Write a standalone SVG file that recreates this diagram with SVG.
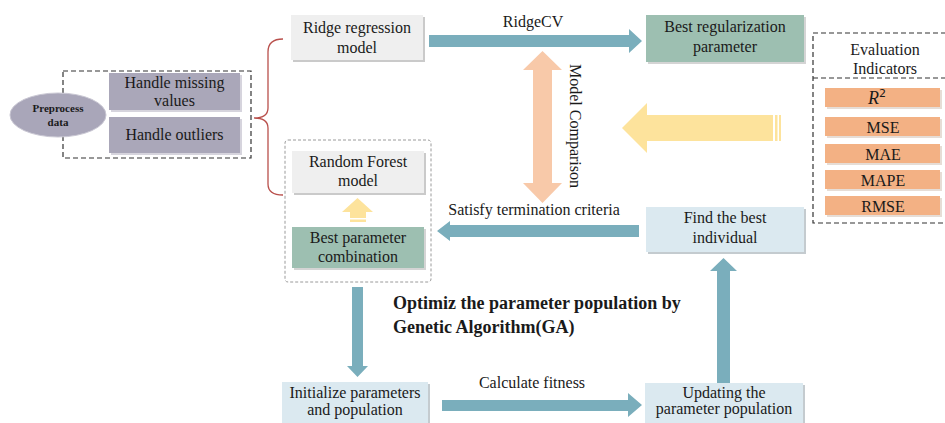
<svg xmlns="http://www.w3.org/2000/svg" width="945" height="423" viewBox="0 0 945 423">
<style>
text{font-family:"Liberation Serif","Times New Roman",serif;fill:#1a1a1a}
.t{font-size:16px;text-anchor:middle}
.sh{fill:#cacaca}
.gray{fill:#efefef}
.purple{fill:#aaa7b9}
.green{fill:#9dbfb1}
.blue{fill:#dbe9f0}
.orange{fill:#f3b184}
.teal{fill:#7aaebc}
.dash{fill:none;stroke:#333;stroke-width:1.2;stroke-dasharray:5 3}
</style>
<rect width="945" height="423" fill="#fff"/>

<!-- Preprocess group -->
<g id="preprocess-box">
<rect class="dash" x="63" y="71" width="188" height="87"/>
</g>
<g id="preprocess">
<ellipse cx="58" cy="115" rx="48" ry="22" fill="#a9a6b9" stroke="#c9c7d3" stroke-width="1"/>
<text x="58" y="112" style="font-size:11px;font-weight:bold;text-anchor:middle">Preprocess</text>
<text x="58" y="126" style="font-size:11px;font-weight:bold;text-anchor:middle">data</text>
</g>
<g id="missing">
<rect x="111" y="75" width="131" height="37" fill="#d6d4dd"/>
<rect class="purple" x="109" y="73" width="131" height="37"/>
<text class="t" x="174.5" y="88">Handle missing</text>
<text class="t" x="174.5" y="106">values</text>
</g>
<g id="outliers">
<rect x="111" y="119" width="131" height="36" fill="#d6d4dd"/>
<rect class="purple" x="109" y="117" width="131" height="36"/>
<text class="t" x="174.5" y="140">Handle outliers</text>
</g>

<!-- Brace -->
<g id="brace">
<path d="M283,39 Q268,39 268,52 L268,108 Q268,118 254,118 Q268,118 268,128 L268,184 Q268,195 283,195" fill="none" stroke="#b9504c" stroke-width="1.3"/>
</g>

<!-- Ridge -->
<g id="ridge">
<rect class="sh" x="293" y="17" width="132" height="45"/>
<rect class="gray" x="291" y="15" width="132" height="45"/>
<text class="t" x="357" y="33">Ridge regression</text>
<text class="t" x="357" y="53">model</text>
</g>
<g id="bestreg">
<rect x="648" y="17" width="158" height="47" fill="#d4d4d4"/>
<rect class="green" x="646" y="15" width="158" height="47"/>
<text class="t" x="725" y="32">Best regularization</text>
<text class="t" x="725" y="52">parameter</text>
</g>

<!-- Evaluation indicators -->
<g id="evaluation">
<path class="dash" d="M946,33 L813,33 L813,223 L946,223 M813,78 L946,78"/>
<text class="t" x="885" y="55">Evaluation</text>
<text class="t" x="885" y="74">Indicators</text>
<g id="r2">
<rect x="827" y="90" width="115" height="19" fill="#e6ddd6"/>
<rect class="orange" x="825" y="88" width="115" height="19"/>
<text x="877" y="104" style="font-size:18px;text-anchor:middle"><tspan font-style="italic">R</tspan><tspan font-family="'DejaVu Sans',sans-serif" font-size="11" dy="-7">2</tspan></text>
</g>
<g id="mse">
<rect x="827" y="119" width="115" height="19" fill="#e6ddd6"/>
<rect class="orange" x="825" y="117" width="115" height="19"/>
<text class="t" x="883" y="133">MSE</text>
</g>
<g id="mae">
<rect x="827" y="146" width="115" height="19" fill="#e6ddd6"/>
<rect class="orange" x="825" y="144" width="115" height="19"/>
<text class="t" x="883" y="160">MAE</text>
</g>
<g id="mape">
<rect x="827" y="172" width="115" height="19" fill="#e6ddd6"/>
<rect class="orange" x="825" y="170" width="115" height="19"/>
<text class="t" x="883" y="186">MAPE</text>
</g>
<g id="rmse">
<rect x="827" y="198" width="115" height="19" fill="#e6ddd6"/>
<rect class="orange" x="825" y="196" width="115" height="19"/>
<text class="t" x="883" y="212">RMSE</text>
</g>
</g>

<!-- Random forest container -->
<g id="rf-container">
<rect x="285" y="140" width="146" height="142" rx="3" fill="none" stroke="#9a9a9a" stroke-width="1" stroke-dasharray="3 2"/>
</g>
<g id="rf">
<rect class="sh" x="294" y="153" width="132" height="42"/>
<rect class="gray" x="292" y="151" width="132" height="42"/>
<text class="t" x="358" y="167">Random Forest</text>
<text class="t" x="358" y="186">model</text>
</g>
<g id="bestparam">
<rect x="294" y="229" width="132" height="41" fill="#d4d4d4"/>
<rect class="green" x="292" y="227" width="132" height="41"/>
<text class="t" x="358" y="243">Best parameter</text>
<text class="t" x="358" y="262">combination</text>
</g>

<g id="findbest">
<rect x="648" y="209" width="158" height="45" fill="#c4cbcf"/>
<rect class="blue" x="646" y="207" width="158" height="45"/>
<text class="t" x="725" y="223">Find the best</text>
<text class="t" x="725" y="243">individual</text>
</g>
<g id="init">
<rect x="284" y="384" width="146" height="41" fill="#c4cbcf"/>
<rect class="blue" x="282" y="382" width="146" height="41"/>
<text class="t" x="355" y="398">Initialize parameters</text>
<text class="t" x="355" y="415">and population</text>
</g>
<g id="update">
<rect x="647" y="385" width="158" height="40" fill="#c4cbcf"/>
<rect class="blue" x="645" y="383" width="158" height="40"/>
<text class="t" x="724" y="398">Updating the</text>
<text class="t" x="724" y="414">parameter population</text>
</g>

<g id="title">
<text x="393" y="309" style="font-size:18px;font-weight:bold">Optimiz the parameter population by</text>
<text x="393" y="333" style="font-size:18px;font-weight:bold">Genetic Algorithm(GA)</text>
</g>

<!-- Connectors -->
<g id="connectors">
<polygon class="teal" points="429,35 629,35 629,29 642,41 629,53 629,47 429,47"/>
<text class="t" x="533" y="27">RidgeCV</text>
<polygon class="teal" points="437,231 450,221 450,225 639,225 639,237 450,237 450,241"/>
<text class="t" x="534" y="215">Satisfy termination criteria</text>
<polygon class="teal" points="352,287 363,287 363,366 368,366 357.5,377 347,366 352,366"/>
<polygon class="teal" points="442,400 628,400 628,393 642,405 628,417 628,411 442,411"/>
<text class="t" x="532" y="388">Calculate fitness</text>
<polygon class="teal" points="717,383 730,383 730,271 737,271 723.5,258 710,271 717,271"/>
<polygon fill="#f8c9a9" points="542.5,51 562,70 552,70 552,183 562,183 542.5,203 523,183 533,183 533,70 523,70"/>
<text class="t" transform="translate(570,126) rotate(90)" x="0" y="0">Model Comparison</text>
<g fill="#fde39c">
<polygon points="622,128 647,103 647,115 773,115 773,141 647,141 647,153"/>
<rect x="775" y="115" width="2.5" height="26"/>
<rect x="779" y="115" width="2" height="26"/>
<polygon points="357.5,198 373,212 366,212 366,218 350,218 350,212 342,212"/>
<rect x="350" y="219.5" width="16" height="2.5"/>
</g>
</g>
</svg>
